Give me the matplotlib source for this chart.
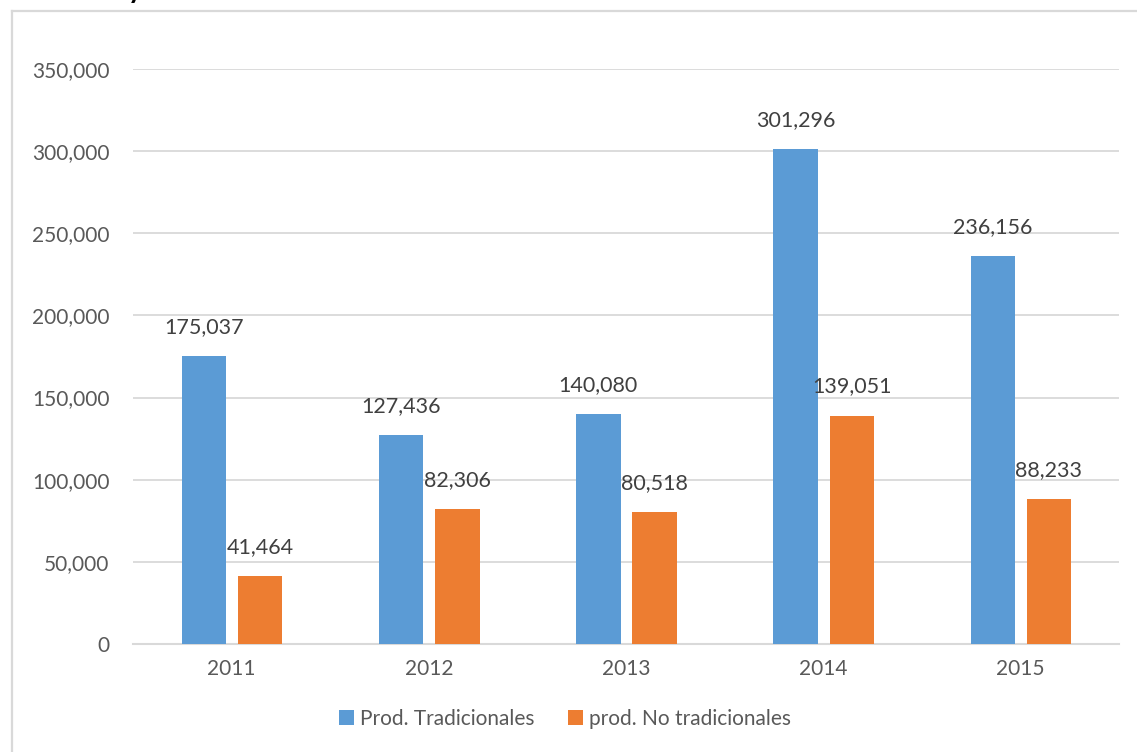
import matplotlib.pyplot as plt
from matplotlib.lines import Line2D
import numpy as np

years = ['2011', '2012', '2013', '2014', '2015']
tradicionales = [175037, 127436, 140080, 301296, 236156]
no_tradicionales = [41464, 82306, 80518, 139051, 88233]
series_names = ['Prod. Tradicionales', 'prod. No tradicionales']

BLUE = '#5B9BD5'
ORANGE = '#ED7D31'
GRID = '#D9D9D9'
TEXT = '#595959'

plt.rcParams['font.family'] = ['Lato', 'DejaVu Sans']

fig = plt.figure(figsize=(11.37, 7.52), dpi=100)
ax = fig.add_axes([133 / 1137, 1 - 644 / 752, (1119 - 133) / 1137, (644 - 69) / 752])

x = np.arange(len(years))
w = 0.225
ax.bar(x - 0.14, tradicionales, width=w, color=BLUE, label=series_names[0], zorder=3)
ax.bar(x + 0.145, no_tradicionales, width=w, color=ORANGE, label=series_names[1], zorder=3)

# data labels above the bars
for xi, v in zip(x, tradicionales):
    ax.annotate(f'{v:,}', (xi - 0.14, v), xytext=(0, 19), textcoords='offset pixels',
                ha='center', va='bottom', fontsize=15.5, color='#404040')
for xi, v in zip(x, no_tradicionales):
    ax.annotate(f'{v:,}', (xi + 0.145, v), xytext=(0, 19), textcoords='offset pixels',
                ha='center', va='bottom', fontsize=15.5, color='#404040')

ax.set_xlim(-0.5, len(years) - 0.5)
ax.set_ylim(0, 350000)
ax.set_yticks(np.arange(0, 350001, 50000))
ax.yaxis.set_major_formatter(plt.FuncFormatter(lambda v, p: f'{int(v):,}'))
ax.set_xticks(x)
ax.set_xticklabels(years)
ax.tick_params(length=0, labelsize=15, labelcolor=TEXT)
ax.tick_params(axis='y', pad=17)
ax.tick_params(axis='x', pad=11)
ax.grid(axis='y', color=GRID, linewidth=1.3, zorder=0)
for s in ['top', 'right', 'left']:
    ax.spines[s].set_visible(False)
ax.spines['bottom'].set_color(GRID)
ax.spines['bottom'].set_linewidth(1.5)

leg = fig.legend(loc='center', bbox_to_anchor=(565 / 1137, 1 - 719 / 752), ncol=2,
                 frameon=False, fontsize=15, handlelength=0.7, handleheight=0.7,
                 handletextpad=0.3, columnspacing=1.6)
for t in leg.get_texts():
    t.set_color(TEXT)

# outer chart frame (partly cut off)
fig.add_artist(Line2D([11.5 / 1137, 11.5 / 1137], [0, 1 - 11 / 752], color=GRID, lw=1.6))
fig.add_artist(Line2D([11.5 / 1137, 1], [1 - 11 / 752, 1 - 11 / 752], color=GRID, lw=1.6))
# cut-off title fragment
fig.text(128 / 1137, 1 + 2 / 752, 'y', fontsize=20, fontweight='bold', color='black', va='baseline')

fig.savefig('out.png', dpi=100)
